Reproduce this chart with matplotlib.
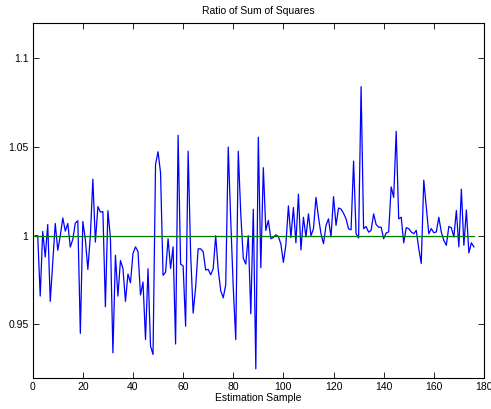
import numpy as np
import matplotlib
matplotlib.use("Agg")
import matplotlib.pyplot as plt

# ratio of sum of squares per estimation sample
ratio = [
    1.000, 1.000, 0.966, 1.0024, 0.988, 1.0063, 0.963, 0.985, 1.0069, 0.9918,
    1.000, 1.010, 1.0026, 1.0069, 0.9936, 0.998, 1.0071, 1.0084, 0.945, 1.008,
    0.998, 0.981, 1.000, 1.0318, 0.9964, 1.0164, 1.0133, 1.0136, 0.960, 1.0141,
    0.999, 0.934, 0.989, 0.966, 0.986, 0.9816, 0.963, 0.9784, 0.9735, 0.990,
    0.9937, 0.9912, 0.9666, 0.9739, 0.9415, 0.9814, 0.9378, 0.9331, 1.0402, 1.0473,
    1.0355, 0.9777, 0.9794, 0.9983, 0.9816, 0.9937, 0.939, 1.0566, 0.984, 0.983,
    0.949, 1.0476, 0.990, 0.9564, 0.971, 0.9926, 0.9926, 0.991, 0.9807, 0.981,
    0.978, 0.9814, 1.000, 0.981, 0.969, 0.965, 0.9724, 1.0499, 1.0086, 0.971,
    0.9415, 1.0476, 1.0123, 0.9873, 0.984, 1.000, 0.956, 1.0149, 0.925, 1.0555,
    0.982, 1.0383, 1.003, 1.0086, 0.9983, 0.999, 1.0005, 0.9995, 0.9953, 0.985,
    0.995, 1.0168, 0.999, 1.0159, 0.996, 1.0234, 0.992, 1.0104, 0.9993, 1.0123,
    1.000, 1.0039, 1.0216, 1.0104, 1.0011, 0.9955, 1.0058, 1.0095, 0.9993, 1.022,
    1.0058, 1.0156, 1.015, 1.0126, 1.0095, 1.0039, 1.0033, 1.042, 1.0011, 0.9987,
    1.084, 1.0039, 1.0052, 1.002, 1.003, 1.0123, 1.0063, 1.0048, 1.0048, 0.9983,
    1.0015, 1.0022, 1.0275, 1.0216, 1.0588, 1.0095, 1.0104, 0.996, 1.0045, 1.004,
    1.0021, 1.0011, 1.003, 0.9928, 0.9844, 1.0313, 1.016, 1.0011, 1.004, 1.0017,
    1.0021, 1.0104, 1.002, 0.9974, 0.9946, 1.0052, 1.0045, 0.9993, 1.0142, 0.9937,
    1.0262, 0.9946, 1.0145, 0.9903, 0.996, 0.9937,
]
sample = np.arange(1, len(ratio) + 1)

# reference line at one
ref_x = [0, len(ratio)]
ref_y = [1, 1]

xticks = list(range(0, 181, 20))
yticks = [0.95, 1.0, 1.05, 1.1]
ytick_labels = ["0.95", "1", "1.05", "1.1"]

plt.rcParams["font.family"] = ["Liberation Sans", "DejaVu Sans"]

fig = plt.figure(figsize=(4.91, 4.09), dpi=100)
ax = fig.add_axes([0.0666, 0.0765, 0.919, 0.868])

ax.plot(sample, ratio, color=(0, 0, 1), lw=0.9)
ax.plot(ref_x, ref_y, color=(0, 0.5, 0), lw=0.9)

ax.set_xlim(0, 180)
ax.set_ylim(0.92, 1.12)
ax.set_xticks(xticks)
ax.set_xticklabels([str(t) for t in xticks])
ax.set_yticks(yticks)
ax.set_yticklabels(ytick_labels)
ax.tick_params(direction="in", length=4, width=0.6, labelsize=7.5,
               top=True, right=True, pad=3)
for s in ax.spines.values():
    s.set_linewidth(0.8)

ax.set_title("Ratio of Sum of Squares", fontsize=7.5, pad=6)
ax.set_xlabel("Estimation Sample", fontsize=7.5, labelpad=1)

fig.savefig("out.png", dpi=100)
